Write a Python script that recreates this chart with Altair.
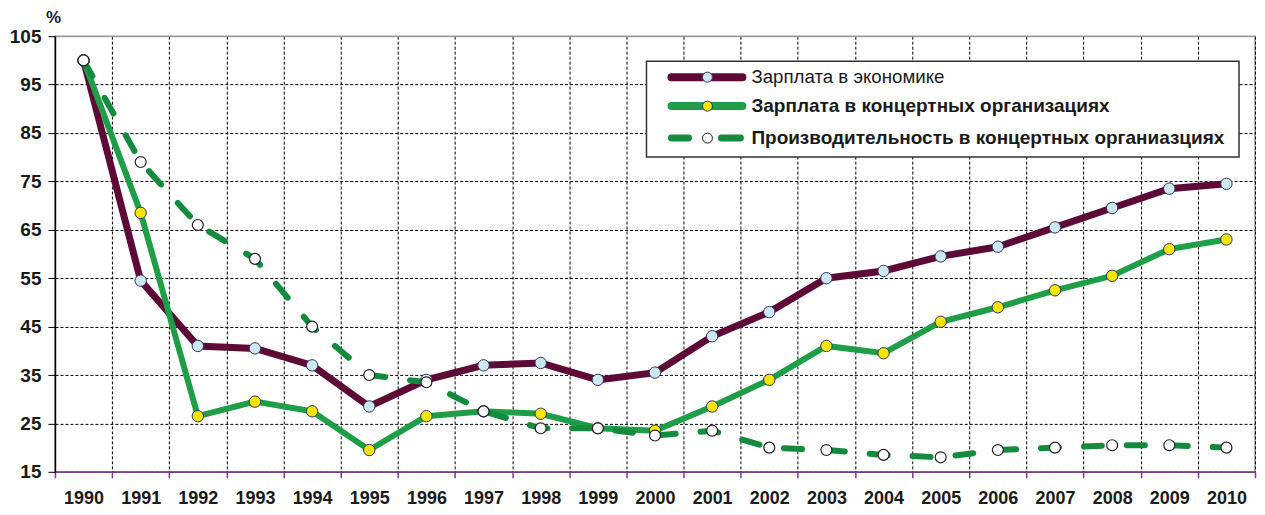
import altair as alt
import pandas as pd

years = [str(y) for y in range(1990, 2011)]
econ = [100, 54.5, 41, 40.5, 37, 28.5, 34, 37, 37.5, 34, 35.5, 43, 48, 55, 56.5, 59.5, 61.5, 65.5, 69.5, 73.5, 74.5]
concert = [100, 68.5, 26.5, 29.5, 27.5, 19.5, 26.5, 27.5, 27, 24, 23.5, 28.5, 34, 41, 39.5, 46, 49, 52.5, 55.5, 61, 63]
prod = [100, 79, 66, 59, 45, 35, 33.5, 27.5, 24, 24, 22.5, 23.5, 20, 19.5, 18.5, 18, 19.5, 20, 20.5, 20.5, 20]
y_ticks = [15, 25, 35, 45, 55, 65, 75, 85, 95, 105]
labels = ["Зарплата в экономике", "Зарплата в концертных организациях",
          "Производительность в концертных органиазциях"]

FONT = "Liberation Sans"
MAROON = "#5e0a36"
GREEN = "#1f9e48"
DGREEN = "#148a3e"
OUTLINE = "#333366"

W, H = 1201, 436

df = pd.DataFrame({"year": years, "econ": econ, "concert": concert, "prod": prod})

x_enc = alt.X(
    "year:O",
    bandPosition=0.5,
    scale=alt.Scale(type="band", paddingInner=0, paddingOuter=0),
    axis=alt.Axis(
        title=None, labelAngle=0, tickBand="extent",
        labelFont=FONT, labelFontSize=18, labelFontWeight="bold", labelColor="#1a1a1a",
        labelPadding=12, tickSize=6, tickColor="#7a3d8c", domainColor="#7a3d8c",
        domainWidth=1.5, tickWidth=1.5,
        grid=True, gridColor="black", gridDash=[3, 2], gridWidth=1,
    ),
)


def y_enc(field):
    return alt.Y(
        f"{field}:Q",
        scale=alt.Scale(domain=[15, 105], nice=False, zero=False),
        axis=alt.Axis(
            title="%", titleAngle=0, titleFont=FONT, titleFontSize=17, titleFontWeight="bold",
            titleX=-2, titleY=-19, titleAlign="center", titleBaseline="middle", titleColor="#1a1a1a",
            values=y_ticks, labelFont=FONT, labelFontSize=19, labelFontWeight="bold",
            labelColor="#1a1a1a", labelPadding=7, tickSize=7, tickColor="black",
            domainColor="black", domainWidth=1.5,
            grid=True, gridColor={"condition": {"test": "datum.value >= 105", "value": "#999999"}, "value": "black"},
            gridDash={"condition": {"test": "datum.value >= 105", "value": []}, "value": [3, 2]},
            gridWidth=1,
        ),
    )


base = alt.Chart(df)

l_econ = base.mark_line(color=MAROON, strokeWidth=7).encode(x=x_enc, y=y_enc("econ"))
p_econ = base.mark_point(filled=True, fill="#cde9f0", stroke=OUTLINE, strokeWidth=1, size=130, opacity=1).encode(x=x_enc, y=y_enc("econ"))
l_conc = base.mark_line(color=GREEN, strokeWidth=6).encode(x=x_enc, y=y_enc("concert"))
p_conc = base.mark_point(filled=True, fill="#f2e600", stroke=OUTLINE, strokeWidth=1, size=130, opacity=1).encode(x=x_enc, y=y_enc("concert"))
l_prod = base.mark_line(color=DGREEN, strokeWidth=6, strokeDash=[18, 25], strokeCap="round").encode(x=x_enc, y=y_enc("prod"))
p_prod = base.mark_point(filled=True, fill="white", stroke="#222", strokeWidth=1.2, size=120, opacity=1).encode(x=x_enc, y=y_enc("prod"))

one = alt.Data(values=[{"a": 1}])
leg_layers = []
leg_layers.append(alt.Chart(one).mark_rect(fill="white", stroke="#333", strokeWidth=1.5).encode(
    x=alt.value(592), x2=alt.value(1185), y=alt.value(25), y2=alt.value(121)))
rows = [41, 70, 102]
colors = [MAROON, GREEN, DGREEN]
fills = ["#cde9f0", "#f2e600", "white"]
weights = ["normal", "bold", "bold"]
sizes = [18.7, 19, 19]
for i in range(3):
    ry = rows[i]
    if i < 2:
        leg_layers.append(alt.Chart(one).mark_rule(color=colors[i], strokeWidth=8, strokeCap="round").encode(
            x=alt.value(617), x2=alt.value(688), y=alt.value(ry)))
    else:
        leg_layers.append(alt.Chart(one).mark_rule(color=colors[i], strokeWidth=7, strokeCap="round").encode(
            x=alt.value(617), x2=alt.value(634), y=alt.value(ry)))
        leg_layers.append(alt.Chart(one).mark_rule(color=colors[i], strokeWidth=7, strokeCap="round").encode(
            x=alt.value(667), x2=alt.value(686), y=alt.value(ry)))
    leg_layers.append(alt.Chart(one).mark_point(filled=True, fill=fills[i], stroke=OUTLINE if i < 2 else "#222",
                                               strokeWidth=1, size=100, opacity=1).encode(
        x=alt.value(653), y=alt.value(ry)))
    leg_layers.append(alt.Chart(one).mark_text(align="left", baseline="middle", font=FONT, fontSize=sizes[i],
                                              fontWeight=weights[i], color="#1a1a1a").encode(
        x=alt.value(697), y=alt.value(ry), text=alt.value(labels[i])))

chart = alt.layer(l_econ, p_econ, l_conc, p_conc, l_prod, p_prod, *leg_layers).properties(
    width=W, height=H,
    autosize=alt.AutoSizeParams(type="none"),
    padding={"left": 47, "top": 28, "right": 2, "bottom": 35},
).configure_view(stroke="#999999", strokeWidth=1.5)

chart.save("out.html", embed_options={"renderer": "svg", "actions": False})
